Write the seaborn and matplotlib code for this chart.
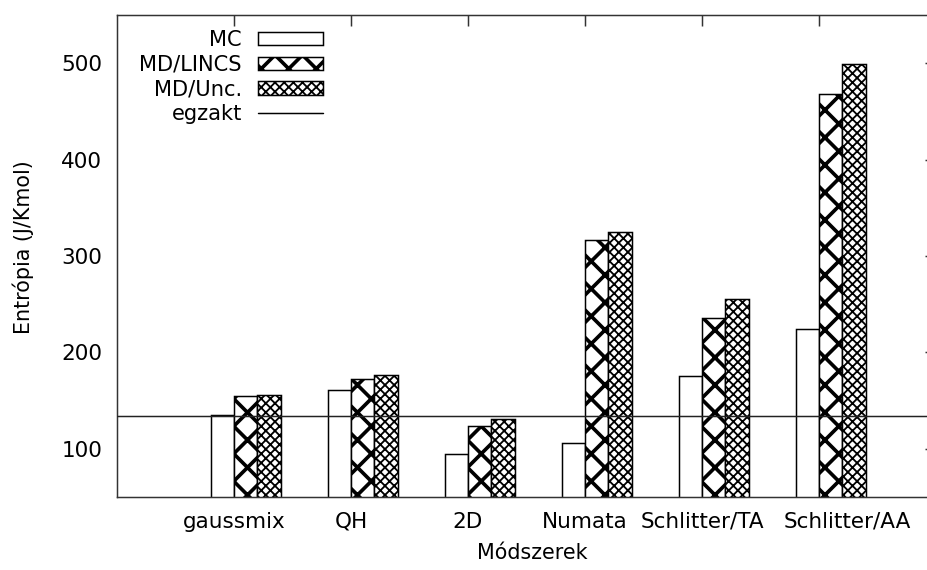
import pandas as pd
import matplotlib.pyplot as plt
import matplotlib.transforms as mtransforms
import seaborn as sns
from matplotlib.patches import Patch
from matplotlib.lines import Line2D

# gnuplot-szerű, fehér háttér
sns.set_style("white")
plt.rcParams['font.family'] = ['DejaVu Sans']
plt.rcParams['text.color'] = 'black'
plt.rcParams['axes.labelcolor'] = 'black'
plt.rcParams['xtick.color'] = 'black'
plt.rcParams['ytick.color'] = 'black'

methods = ['gaussmix', 'QH', '2D', 'Numata', 'Schlitter/TA', 'Schlitter/AA']
mc = [135.5, 161, 95, 105.5, 175.5, 224]
md_lincs = [154.7, 172, 124, 316.5, 236, 468]
md_unc = [156, 177, 131, 325, 255, 499]
egzakt = 134

series = ['MC', 'MD/LINCS', 'MD/Unc.']
hatches = ['', 'xx', 'xxxxxx']
hatch_lw = [0.6, 1.6, 0.8]

df = pd.DataFrame({
    'Módszer': methods * 3,
    'Entrópia': mc + md_lincs + md_unc,
    'Sorozat': [s for s in series for _ in methods],
})

DPI = 165
fig = plt.figure(figsize=(927 / DPI, 570 / DPI), dpi=DPI)
ax = fig.add_axes([117 / 927, 1 - 497 / 570, (936 - 117) / 927, (497 - 15) / 570])

# üres első hue-szint: a klaszter a tick-hez képest eltolva (mint gnuplotban)
hue_order = [' '] + series
pal = {k: 'white' for k in hue_order}
sns.barplot(data=df, x='Módszer', y='Entrópia', hue='Sorozat', hue_order=hue_order,
            order=methods, palette=pal, saturation=1, errorbar=None, width=0.8,
            edgecolor='black', linewidth=0.65, legend=False, ax=ax)

for cont, h, hl in zip(ax.containers[-len(series):], hatches, hatch_lw):
    for bar in cont:
        bar.set_hatch(h)
        if hasattr(bar, 'set_hatch_linewidth'):
            bar.set_hatch_linewidth(hl)

ax.axhline(egzakt, color='#222222', lw=0.65, zorder=5)

ax.set_xlim(-1, 6)
ax.set_ylim(50, 550)
ax.set_yticks([100, 200, 300, 400, 500])
ax.tick_params(direction='in', length=4.8, width=0.65, top=True, right=True,
               labelsize=9.4, pad=6.5, color='#333333')
for sp in ax.spines.values():
    sp.set_color('#333333')
    sp.set_linewidth(0.65)

# az utolsó felirat jobbra tolva, hogy ne érjen össze a szomszédjával
lbl = ax.get_xticklabels()[-1]
lbl.set_transform(lbl.get_transform() + mtransforms.ScaledTranslation(28 / DPI, 0, fig.dpi_scale_trans))

ax.set_xlabel('Módszerek', fontsize=9.0)
ax.set_ylabel('Entrópia (J/Kmol)', fontsize=9.0)
ax.xaxis.set_label_coords(0.507, -0.116)
ax.xaxis.label.set_va('center')
ax.yaxis.set_label_coords(-0.115, 0.519)
ax.yaxis.label.set_va('center')

handles = [Patch(facecolor='white', edgecolor='black', hatch=h, linewidth=0.65) for h in hatches]
handles.append(Line2D([], [], color='black', lw=0.65))
leg = ax.legend(handles, series + ['egzakt'], loc='upper right',
                bbox_to_anchor=(323 / 927, 1 - 30 / 570), bbox_transform=fig.transFigure,
                frameon=False, markerfirst=False, fontsize=9.2, handlelength=3.1,
                handleheight=0.6, handletextpad=0.75, labelspacing=0.22,
                borderpad=0, borderaxespad=0)
for p, hl in zip(leg.get_patches(), hatch_lw):
    if hasattr(p, 'set_hatch_linewidth'):
        p.set_hatch_linewidth(hl)

fig.savefig('out.png', dpi=DPI)
plt.close()
